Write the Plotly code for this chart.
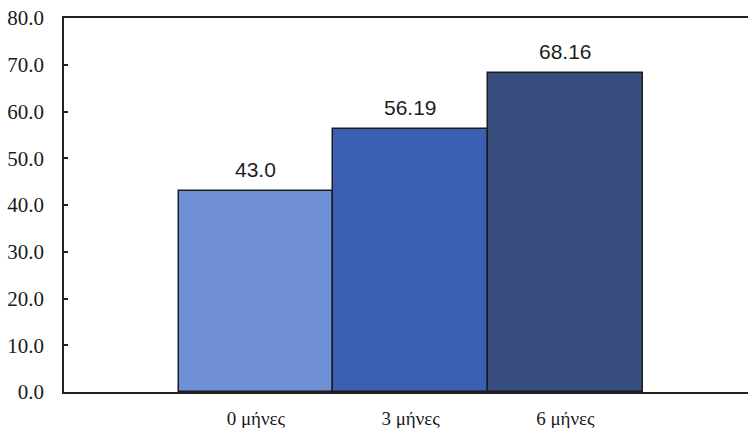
import plotly.graph_objects as go

# Measurement periods and mean scores
categories = ["0 μήνες", "3 μήνες", "6 μήνες"]
values = [43.0, 56.19, 68.16]
value_labels = ["43.0", "56.19", "68.16"]
bar_colors = ["#6f90d6", "#3b5fb2", "#364d7e"]
y_ticks = [0, 10, 20, 30, 40, 50, 60, 70, 80]
y_tick_labels = ["0.0", "10.0", "20.0", "30.0", "40.0", "50.0", "60.0", "70.0", "80.0"]

serif = "Liberation Serif"

fig = go.Figure()
fig.add_trace(go.Bar(
    x=categories,
    y=values,
    marker=dict(color=bar_colors, line=dict(color="#1c1c1c", width=1.5)),
    width=1.0,
    hoverinfo="skip",
))

for cat, val, lab in zip(categories, values, value_labels):
    fig.add_annotation(
        x=cat, y=val, text=lab, showarrow=False,
        yanchor="bottom", yshift=8,
        font=dict(family="Liberation Sans", size=21, color="#1e1e1e"),
    )

axis_line = "#222222"
fig.update_layout(
    width=749, height=428,
    margin=dict(l=64, r=1, t=18, b=36),
    paper_bgcolor="white", plot_bgcolor="white",
    showlegend=False,
    bargap=0,
    xaxis=dict(
        type="category",
        range=[-1.24, 3.18],
        automargin=False,
        showline=True, mirror=True, linecolor=axis_line, linewidth=1.5,
        showgrid=False, ticks="",
        ticklabelstandoff=8,
        tickfont=dict(family=serif, size=19, color="#1a1a1a"),
    ),
    yaxis=dict(
        range=[0, 80],
        automargin=False,
        tickvals=y_ticks, ticktext=y_tick_labels,
        showline=True, mirror=False, linecolor=axis_line, linewidth=1.5,
        showgrid=False, zeroline=False,
        ticks="inside", ticklen=4, tickcolor=axis_line, tickwidth=1.5,
        ticklabelstandoff=14,
        tickfont=dict(family=serif, size=21, color="#1a1a1a"),
    ),
)

fig.write_html("out.html")
